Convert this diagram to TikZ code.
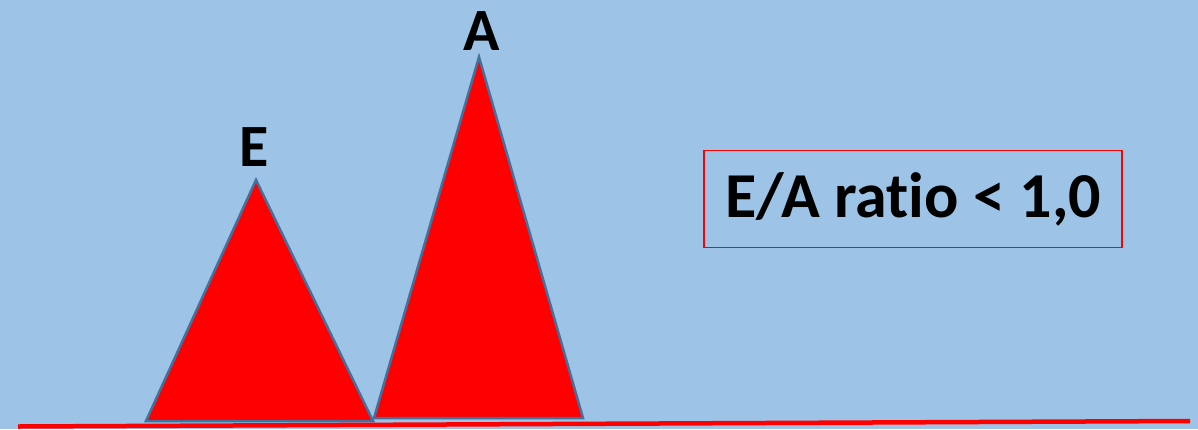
\documentclass[tikz,border=0pt]{standalone}
\usepackage{fontspec}
\setmainfont{Carlito}[Ligatures=NoCommon]
\definecolor{bg}{RGB}{157,195,230}
\definecolor{edge}{RGB}{65,113,156}
\definecolor{pk}{RGB}{255,0,0}
\begin{document}
\begin{tikzpicture}[x=1pt,y=-1pt,
  peak/.style={fill=pk,draw=edge,line width=2.5pt,line join=miter},
  lbl/.style={font=\fontsize{60}{66}\selectfont\bfseries,inner sep=0pt,anchor=base}]
\fill[bg] (0,0) rectangle (1198,429);
\useasboundingbox (0,0) rectangle (1198,429);
\coordinate (e1) at (146,421);
\coordinate (e2) at (256,180);
\coordinate (e3) at (373,421);
\coordinate (a1) at (374,418);
\coordinate (a2) at (479,57);
\coordinate (a3) at (583,418);
\draw[peak] (e1) -- (e2) -- (e3) -- cycle;
\draw[peak] (a1) -- (a2) -- (a3) -- cycle;
\coordinate (l1) at (18,426.5);
\coordinate (l2) at (1190,421);
\draw[pk,line width=4.5pt] (l1) -- (l2);
\node[lbl] (E) at (254,166) {E};
\node[lbl] (A) at (482,50) {A};
\node[draw=pk,line width=1.5pt,minimum width=418pt,minimum height=97pt,inner sep=0pt,
  font=\fontsize{64}{72}\selectfont\bfseries] (ratio) at (913,199) {E/A ratio < 1,0};
\end{tikzpicture}
\end{document}
